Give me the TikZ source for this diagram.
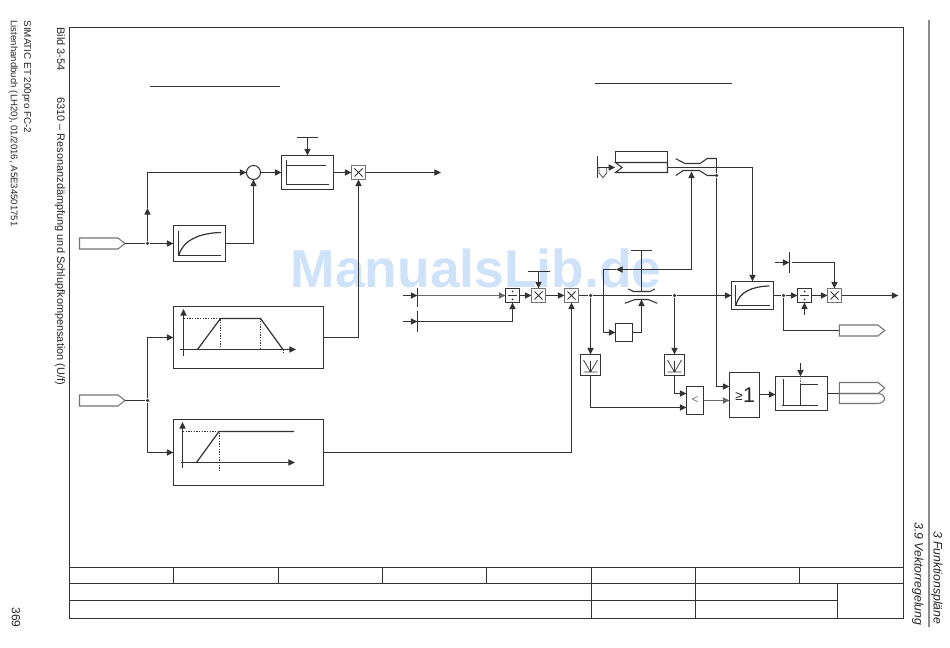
\documentclass[tikz,border=0pt]{standalone}
\usepackage{fontspec}
\setmainfont{Liberation Sans}
\usetikzlibrary{arrows.meta,shapes.symbols}
\definecolor{ink}{gray}{0.2}
\definecolor{wmark}{RGB}{206,226,250}
\tikzset{
  every path/.style={line width=0.8pt},
  cbox/.style 2 args={rectangle,draw=ink,fill=none,line width=0.8pt,inner sep=0pt,outer sep=0pt,minimum width=#1*0.75pt,minimum height=#2*0.75pt},
  grayop/.style={cbox={14}{14},draw=black!55},
  darkop/.style={cbox={14}{14}},
  sumdot/.style={circle,draw=ink,line width=0.8pt,inner sep=0pt,outer sep=0pt,minimum size=14*0.75pt},
  hexsig/.style={signal,signal to=east,signal from=nowhere,signal pointer angle=76,draw=black!55,line width=0.8pt,inner sep=0pt,outer sep=0pt,minimum width=45.5*0.75pt,minimum height=11*0.75pt,anchor=west},
  flow/.style={-{Triangle[length=5pt,width=4.6pt]}},
  thinmark/.style={line width=0.55pt},
  gr/.style={line width=0.9pt},
  dots/.style={line width=0.7pt,dash pattern=on 1pt off 1pt},
  junction/.style={circle,fill=ink,draw=none,inner sep=0pt,minimum size=3.5*0.75pt},
  vtext/.style={rotate=-90,anchor=base west,inner sep=0pt,text=black!85},
  vtextend/.style={rotate=-90,anchor=base east,inner sep=0pt,text=black!85,font=\fontsize{9.2}{11}\selectfont\itshape},
}
\newcommand{\crossmark}[1]{\draw[thinmark] (#1.center) ++(-4,-4) -- ++(8,8) (#1.center) ++(4,-4) -- ++(-8,8);}
\newcommand{\divmark}[1]{\draw[thinmark] (#1.center) ++(-4.5,0) -- ++(9,0);
  \fill (#1.center) ++(0,-4) circle (0.75pt); \fill (#1.center) ++(0,4) circle (0.75pt);}
\newcommand{\vmark}[1]{\draw[thinmark] (#1.center) ++(-7,-5) -- ++(7,12) -- ++(7,-12) (#1.center) ++(0,-4) -- ++(0,11) (#1.center) ++(-7,7) -- ++(14,0);}
\begin{document}
\begin{tikzpicture}[x=0.75pt,y=-0.75pt,color=ink]
\useasboundingbox (0,0) rectangle (950,648);
% watermark
\node[text=wmark,font=\fontsize{40}{42}\selectfont\bfseries,inner sep=0pt,anchor=base] (wm) at (476,288) {ManualsLib.de};
% frame and title block
\draw (69.5,27.5) rectangle (903.5,618.5);
\draw (69.5,567.5) -- (903.5,567.5) (69.5,583.5) -- (903.5,583.5) (69.5,600.5) -- (837.5,600.5);
\foreach \xx in {173.5,278.5,382.5,486.5,591.5,695.5,799.5} {\draw (\xx,567.5) -- (\xx,583.5);}
\draw (591.5,583.5) -- (591.5,618.5) (695.5,583.5) -- (695.5,618.5) (837.5,583.5) -- (837.5,618.5);
\draw[black!45,line width=1.1pt] (929,20) -- (929,627);
% margin texts
\node[vtext,font=\fontsize{8.2}{10}\selectfont] (fig) at (57,27) {Bild 3-54};
\node[vtext,font=\fontsize{8.2}{10}\selectfont] (cap) at (57,97) {6310 – Resonanzdämpfung und Schlupfkompensation (U/f)};
\node[vtext,font=\fontsize{7.4}{9}\selectfont] (prod) at (24,20) {SIMATIC ET 200pro FC-2};
\node[vtext,font=\fontsize{7.2}{9}\selectfont] (man) at (11,20) {Listenhandbuch (LH20), 01/2016, A5E34501751};
\node[vtext,font=\fontsize{9}{10}\selectfont] (page) at (12,607) {369};
\node[vtextend] (ch) at (933.5,625) {3 Funktionspläne};
\node[vtextend] (sec) at (914.5,626) {3.9 Vektorregelung};
% heading rules
\draw (150,86.5) -- (280,86.5);
\draw (595,83.5) -- (732,83.5);

% ---- left part ----
\node[hexsig] (in1) at (79.5,243.5) {};
\node[hexsig] (in2) at (79.5,400.5) {};
\node[sumdot] (sum) at (253.5,172.5) {};
\node[cbox={52}{34}] (lim) at (307.5,172.5) {};
\node[grayop] (m1) at (358.5,172.5) {};
\node[cbox={52}{36}] (pta) at (199.5,243.5) {};
\node[cbox={150}{62}] (trap) at (248.5,337.5) {};
\node[cbox={150}{66}] (ramp) at (248.5,452.5) {};
\node[junction] (j1) at (147.5,243.5) {};
\node[junction] (j2) at (147.5,400.5) {};
\coordinate (t1) at (307.5,137.5);
\coordinate (o1) at (441,172.5);
\coordinate (b1) at (147.5,208);
\draw (297,137.5) -- (318,137.5);
\draw[flow] (t1) -- (lim.north);
\crossmark{m1}
\draw (in1.east) -- (j1);
\draw[flow] (j1) -- (pta.west);
\draw[flow] (j1) -- (b1);
\draw[flow] (b1) |- (sum.west);
\draw[flow] (pta.east) -| (sum.south);
\draw[flow] (sum.east) -- (lim.west);
\draw[flow] (lim.east) -- (m1.west);
\draw[flow] (m1.east) -- (o1);
\draw[flow] (trap.east) -| (m1.south);
\draw (in2.east) -- (j2);
\draw[flow] (j2) |- (trap.west);
\draw[flow] (j2) |- (ramp.west);
% inner graphs left
\draw (286.5,160) -- (286.5,184.5) -- (329,184.5);
\draw (286.5,165.5) -- (325.5,165.5);
\draw (178.5,231) -- (178.5,255.5) -- (221,255.5);
\draw[gr] (179,255) .. controls (183,240) and (200,233) .. (221,232.5);
\draw[flow] (183.5,356) -- (183.5,309);
\draw[flow] (180,349.5) -- (296,349.5);
\draw[gr] (197.5,349.5) -- (220.5,318.5) -- (260.5,318.5) -- (283,349.5);
\draw[dots] (184,318.5) -- (220.5,318.5) -- (220.5,349.5) (260.5,318.5) -- (260.5,349.5) (283,349.5) -- (283,354);
\draw[flow] (182.5,468.5) -- (182.5,422);
\draw[flow] (181,462.5) -- (295,462.5);
\draw[gr] (196.5,462.5) -- (219,431.5) -- (294,431.5);
\draw[dots] (183,431.5) -- (219,431.5) -- (219,472);

% ---- centre part ----
\coordinate (e1) at (403,295.5);
\coordinate (e2) at (403,321.5);
\coordinate (e1t) at (417.5,295.5);
\coordinate (e2t) at (417.5,321.5);
\draw (417.5,288) -- (417.5,307) (417.5,311) -- (417.5,332);
\draw[flow] (e1) -- (e1t);
\draw[flow] (e2) -- (e2t);
\node[darkop] (d1) at (512.5,295.5) {};
\node[grayop] (m2) at (538.5,295.5) {};
\node[grayop] (m3) at (571.5,295.5) {};
\divmark{d1}
\crossmark{m2}
\crossmark{m3}
\coordinate (t2) at (538.5,271.5);
\draw (528,271.5) -- (549.5,271.5);
\draw[flow] (t2) -- (m2.north);
\draw[flow,black!60,line width=1pt] (e1t) -- (d1.west);
\draw[flow] (e2t) -| (d1.south);
\draw[flow] (d1.east) -- (m2.west);
\draw[flow] (m2.east) -- (m3.west);
\draw[flow] (ramp.east) -| (m3.south);
\node[junction] (j3) at (590.5,295.5) {};
\node[junction] (j4) at (674.5,295.5) {};
\node[junction] (j5) at (783.5,295.5) {};
\node[cbox={42}{28}] (ptb) at (752.5,295.5) {};
\node[darkop] (d2) at (804.5,295.5) {};
\node[grayop] (m4) at (834.5,295.5) {};
\divmark{d2}
\crossmark{m4}
\draw (m3.east) -- (j3);
\draw (j3) -- (j4);
\draw[flow] (j4) -- (ptb.west);
\draw (ptb.east) -- (j5);
\draw[flow] (j5) -- (d2.west);
\draw[flow] (d2.east) -- (m4.west);
\coordinate (o2) at (898.5,295.5);
\draw[flow] (m4.east) -- (o2);
\coordinate (s1) at (804.5,315);
\draw[flow] (s1) -- (d2.south);
% PT1 inner
\draw (735.5,285.5) -- (735.5,305.5) -- (769.5,305.5);
\draw[gr] (736,305) .. controls (739,292) and (752,286.5) .. (769.3,286);
% top-right T
\coordinate (t3l) at (775,262.5);
\coordinate (t3t) at (789.5,262.5);
\coordinate (t3r) at (792,262.5);
\draw (789.5,252) -- (789.5,273);
\draw[flow] (t3l) -- (t3t);
\draw[flow] (t3r) -| (m4.north);
% feedback branch
\node[cbox={17}{18}] (g1) at (624,332.5) {};
\coordinate (fbR) at (691.5,269.5);
\coordinate (fbL) at (603.5,269.5);
\coordinate (fbM) at (616,269.5);
\coordinate (sw2b) at (641.5,299.5);
\coordinate (t4) at (641.5,250.5);
\coordinate (t4b) at (641.5,291.5);
\draw (630.7,250.5) -- (651.7,250.5);
\draw (t4) -- (t4b);
\draw (628.3,289) -- (633.3,291.5) -- (650,291.5) -- (655,289);
\draw (625,303.3) -- (635,299.5) -- (648.3,299.5) -- (657.3,303.3);
\draw[flow] (g1.east) -| (sw2b);
\coordinate (sw1b) at (691.5,171.5);
\draw[flow] (fbR) -- (fbM);
\draw (fbM) -- (fbL);
\draw[flow] (fbL) |- (g1.west);
\draw[flow] (fbR) -- (sw1b);
% buffer
\node[cbox={52}{11}] (buf) at (641.5,157) {};
\draw (667.5,162.5) -- (615.5,162.5) -- (622,167.5) -- (615.5,172.5) -- (667.5,172.5) -- cycle;
\coordinate (bufo) at (667.5,167.5);
\coordinate (bufi) at (615.3,167.5);
\coordinate (shf) at (597.5,167.5);
\draw (597.5,156) -- (597.5,178);
\draw[black!70,line width=0.6pt] (599,167.5) -- (606.7,167.5) -- (606.7,173) -- (603,177.7) -- (599,173) -- cycle;
\draw[flow] (shf) -- (bufi);
\draw[flow] (bufo) -| (ptb.north);
% upper switch pair
\draw (675.7,158.7) -- (685,163.5) -- (700,163.5) -- (707.3,158.5) -- (716.5,158.5);
\draw (675.7,175.5) -- (683.3,170.5) -- (699.3,170.5) -- (707.3,175.5) -- (716.5,175.5);
\node[junction] (j6) at (716.5,175.5) {};
% V boxes
\node[cbox={20}{21}] (v1) at (590.5,365) {};
\node[cbox={20}{21}] (v2) at (674.5,365) {};
\vmark{v1}
\vmark{v2}
\draw[flow] (j3) -- (v1.north);
\draw[flow] (j4) -- (v2.north);
% logic
\node[cbox={17}{28},text=black!55,font=\fontsize{9}{10}\selectfont] (lt) at (695,400.5) {<};
\node[cbox={30}{45},font=\fontsize{16}{18}\selectfont] (ge) at (744.5,395) {};
\node[font=\fontsize{10}{12}\selectfont,inner sep=0pt,text=black!85] (gesym) at (739,396) {≥};
\node[font=\fontsize{16}{18}\selectfont,inner sep=0pt,text=black!85] (geone) at (749,395) {1};
\node[cbox={52}{34}] (cmp) at (801.5,393.5) {};
\coordinate (la) at (686.5,393.5);
\coordinate (lb) at (686.5,407.5);
\coordinate (gea) at (729.5,386.5);
\coordinate (geb) at (729.5,400.5);
\coordinate (gout) at (759.5,394.5);
\coordinate (cmpin) at (775.5,394.5);
\draw[flow] (v2.south) |- (la);
\draw[flow] (v1.south) |- (lb);
\draw[flow,black!60,line width=1pt] (lt.east) -- (geb);
\draw[flow] (j6) |- (gea);
\draw (716.5,158.5) -- (j6);
\draw[flow] (gout) -- (cmpin);
\coordinate (t5) at (800.5,363.5);
\coordinate (t5e) at (800.5,376.5);
\draw[flow] (t5) -- (t5e);
\draw (783.5,379.5) -- (783.5,406);
\draw (781.7,405.5) -- (817.7,405.5);
\draw[gr] (800.5,405.5) -- (800.5,384.5) -- (817.7,384.5);
\draw[dots,black!55] (800.5,384.5) -- (800.5,376.5);
% outputs
\node[hexsig] (out1) at (839.3,330.5) {};
\draw (j5) |- (out1.west);
\coordinate (oup) at (839.3,393.5);
\draw[black!55] (839.3,393.5) -- (839.3,382.5) -- (878,382.5) -- (884.7,388) -- (878,393.5) -- cycle;
\draw[black!55] (839.3,393.5) -- (877,393.5) .. controls (887,393.5) and (887,403.5) .. (877,403.5) -- (839.3,403.5) -- cycle;
\draw (cmp.east) -- (oup);
\end{tikzpicture}
\end{document}
